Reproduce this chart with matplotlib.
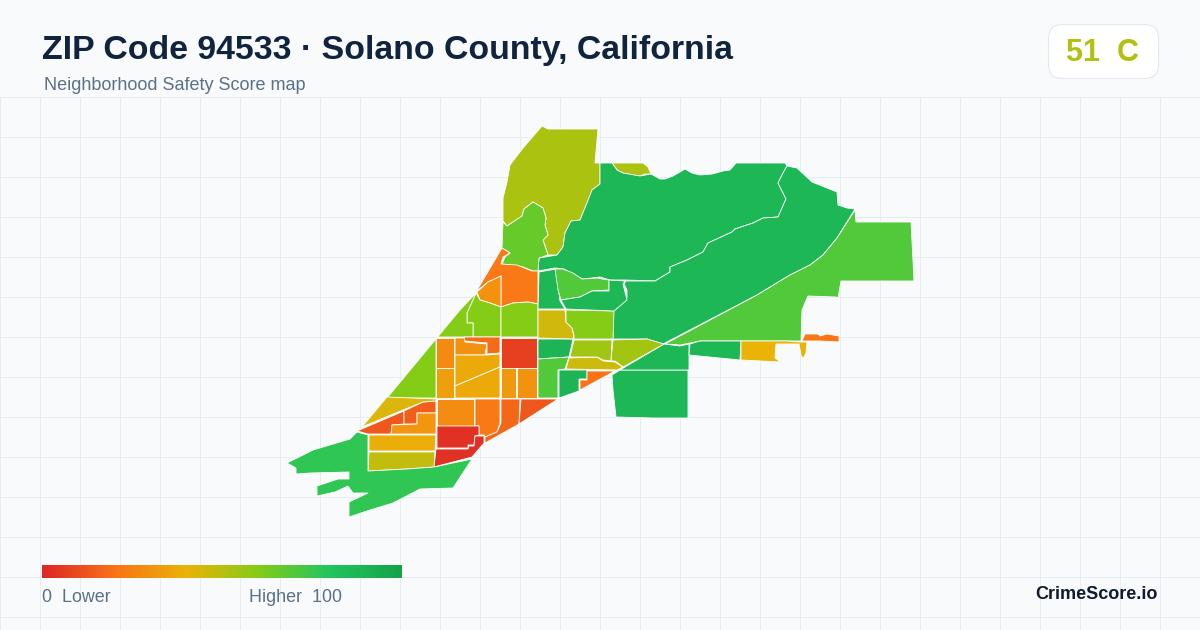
import numpy as np
import matplotlib
matplotlib.use("Agg")
import matplotlib.pyplot as plt
from matplotlib.colors import LinearSegmentedColormap
from matplotlib.patches import FancyBboxPatch, Polygon

plt.rcParams['font.family'] = ['Liberation Sans', 'DejaVu Sans']

title = "ZIP Code 94533 \u00b7 Solano County, California"
subtitle = "Neighborhood Safety Score map"
overall_score = 51
overall_grade = "C"
brand = "CrimeScore.io"

# score scale, same stops as the legend bar
scale_stops = [0.0, 0.2, 0.4, 0.6, 0.8, 1.0]
scale_colors = ["#dc2626", "#f97316", "#eab308", "#84cc16", "#22c55e", "#16a34a"]

# tract outlines, with the score read from each fill
tract_north_olive = [(542,126),(548,129),(598,129),(595,163),(600,163),(600,184),(592,190),(587,203),(580,220),(571,221),(565,233),(563,247),(557,255),(548,255),(543,240),(548,235),(545,225),(546,218),(543,208),(533,202),(524,209),(522,216),(507,226),(503,221),(503,198),(507,182),(510,165),(523,148)]
tract_north_sliver = [(612,163),(643,163),(648,167),(651,174),(645,174),(640,176),(633,175),(623,173),(617,170)]
tract_north_green = [(600,163),(612,163),(617,170),(623,173),(640,176),(651,174),(660,179),(665,179),(673,176),(685,169),(692,173),(700,175),(712,174),(723,171),(730,170),(736,163),(785,163),(787,166),(783,173),(778,183),(786,199),(778,217),(763,218),(753,223),(735,229),(732,232),(708,243),(703,252),(687,260),(670,267),(670,272),(655,281),(625,280),(610,280),(600,277),(583,279),(573,275),(564,269),(555,268),(538,271),(539,258),(557,255),(563,247),(565,233),(571,221),(580,220),(587,203),(592,190),(600,184)]
tract_northeast = [(787,166),(797,168),(812,182),(837,192),(838,205),(847,208),(855,209),(837,238),(823,255),(810,265),(790,275),(757,295),(663,344),(647,339),(613,339),(613,311),(616,309),(627,298),(627,290),(624,284),(626,281),(655,281),(670,272),(670,267),(687,260),(703,252),(708,243),(732,232),(735,229),(753,223),(763,218),(778,217),(786,199),(778,183),(783,173)]
tract_east = [(855,210),(856,222),(911,222),(914,281),(841,281),(838,298),(836,297),(808,296),(802,310),(801,341),(740,341),(700,341),(680,345),(665,344),(757,295),(790,275),(810,265),(823,255),(837,238)]
tract_southeast = [(612,375),(613,390),(616,417),(653,418),(688,418),(688,370),(620,370)]
tract_se_strip = [(664,344),(680,346),(689,344),(689,370),(620,370)]
tract_east_strip = [(690,344),(700,341),(741,341),(740,360),(689,355)]
tract_east_yellow = [(741,341),(787,341),(800,342),(807,342),(806,353),(803,359),(801,355),(799,344),(776,344),(775,358),(781,362),(741,360)]
tract_east_orange = [(805,334),(818,334),(820,336),(827,334),(839,336),(839,342),(820,341),(802,341)]
tract_hill_lime = [(503,222),(507,226),(522,216),(524,209),(533,202),(543,208),(546,218),(545,225),(548,235),(543,240),(548,255),(539,258),(538,271),(533,271),(523,267),(502,264),(505,257),(510,253),(502,248)]
tract_orange_big = [(502,248),(510,253),(503,257),(501,264),(517,265),(532,271),(538,271),(538,304),(528,302),(513,303),(501,307),(501,276),(488,282),(478,290),(476,292)]
tract_orange_small = [(477,292),(488,282),(501,276),(501,307),(490,303),(480,300)]
tract_lime_a = [(476,293),(480,300),(490,303),(501,307),(501,337),(473,337),(473,323),(467,323),(467,313)]
tract_lime_b = [(501,307),(513,303),(528,302),(538,304),(538,337),(501,337)]
tract_lime_long = [(476,293),(467,313),(467,323),(473,323),(473,337),(436,337),(436,398),(387,398),(460,310)]
tract_g1 = [(436,338),(454,338),(454,368),(436,368)]
tract_g2 = [(436,368),(454,368),(454,398),(436,398)]
tract_g3 = [(455,338),(465,338),(465,342),(487,344),(485,355),(455,355)]
tract_g4 = [(464,337),(500,337),(500,353),(487,354),(487,343),(465,341)]
tract_g5 = [(455,355),(487,355),(500,354),(500,367),(455,386)]
tract_g6 = [(455,386),(500,367),(500,398),(455,398)]
tract_g7 = [(501,338),(537,338),(537,368),(501,368)]
tract_g8 = [(501,368),(516,368),(516,398),(501,398)]
tract_g9 = [(517,368),(537,368),(537,398),(517,398)]
tract_c1 = [(538,339),(573,339),(569,357),(538,359)]
tract_c2 = [(538,359),(569,357),(565,369),(558,370),(558,398),(538,398)]
tract_c3 = [(559,370),(587,370),(587,379),(579,379),(579,391),(559,398)]
tract_c4 = [(587,371),(615,371),(580,390),(580,380),(587,380)]
tract_c5 = [(569,358),(597,357),(603,361),(615,362),(623,367),(617,370),(566,369)]
tract_c6 = [(538,310),(565,310),(566,322),(572,328),(574,337),(573,339),(538,338)]
tract_c7 = [(566,310),(614,311),(613,339),(574,339),(574,335),(572,328),(566,322)]
tract_c8 = [(574,340),(612,340),(611,361),(603,360),(597,357),(570,357)]
tract_c9 = [(613,340),(647,339),(664,344),(623,367),(615,361),(611,361)]
tract_n1 = [(539,272),(556,269),(560,301),(565,309),(538,309)]
tract_n2 = [(555,269),(563,269),(573,273),(582,279),(598,278),(602,279),(609,280),(609,290),(592,291),(580,297),(561,300),(558,290)]
tract_n3 = [(561,300),(580,297),(592,291),(609,291),(609,280),(625,281),(623,284),(627,300),(614,311),(566,309)]
tract_s1 = [(437,399),(474,399),(474,426),(437,426)]
tract_s2 = [(475,399),(500,399),(500,423),(497,432),(485,437),(484,435),(479,435),(479,426),(475,426)]
tract_s3 = [(501,399),(520,399),(519,424),(485,443),(485,437),(497,432),(501,423)]
tract_s4 = [(521,399),(558,399),(519,424)]
tract_s5 = [(437,426),(479,426),(479,435),(475,436),(474,445),(468,445),(468,448),(437,448)]
tract_s6 = [(475,436),(484,436),(484,443),(472,457),(434,467),(436,449),(468,449),(469,446),(474,446)]
tract_w1 = [(357,431),(404,411),(404,424),(392,425),(391,434),(368,434)]
tract_w2 = [(404,411),(423,402),(436,401),(436,413),(417,413),(417,424),(404,424)]
tract_w3 = [(392,425),(417,424),(417,413),(436,413),(436,434),(391,434)]
tract_w4 = [(369,435),(436,435),(435,451),(369,451)]
tract_w5 = [(369,452),(435,452),(434,467),(407,469),(368,471)]
tract_w6 = [(387,397),(436,399),(436,401),(423,402),(403,410),(362,427)]
tract_southwest = [(357,432),(368,435),(368,471),(407,469),(434,467),(472,459),(453,488),(420,489),(393,503),(370,510),(349,517),(349,502),(368,493),(353,493),(348,486),(335,492),(317,496),(317,486),(338,479),(349,479),(349,472),(310,473),(296,474),(296,468),(287,463),(313,450),(350,439)]

tracts = [
    (tract_north_olive, 52), (tract_north_sliver, 52), (tract_north_green, 88),
    (tract_northeast, 88), (tract_east, 70), (tract_southeast, 88),
    (tract_se_strip, 88), (tract_east_strip, 88), (tract_east_yellow, 40),
    (tract_east_orange, 21), (tract_hill_lime, 66), (tract_orange_big, 22),
    (tract_orange_small, 30), (tract_lime_a, 60), (tract_lime_b, 60),
    (tract_lime_long, 60), (tract_g1, 27), (tract_g2, 34), (tract_g3, 29),
    (tract_g4, 18), (tract_g5, 37), (tract_g6, 37), (tract_g7, 7),
    (tract_g8, 32), (tract_g9, 30), (tract_c1, 90), (tract_c2, 70),
    (tract_c3, 90), (tract_c4, 20), (tract_c5, 46), (tract_c6, 45),
    (tract_c7, 60), (tract_c8, 55), (tract_c9, 54), (tract_n1, 88),
    (tract_n2, 70), (tract_n3, 88), (tract_s1, 28), (tract_s2, 22),
    (tract_s3, 17), (tract_s4, 13), (tract_s5, 3), (tract_s6, 3),
    (tract_w1, 13), (tract_w2, 15), (tract_w3, 31), (tract_w4, 38),
    (tract_w5, 48), (tract_w6, 43), (tract_southwest, 77),
]

cmap = LinearSegmentedColormap.from_list("safety", list(zip(scale_stops, scale_colors)))

fig = plt.figure(figsize=(12, 6.3), dpi=100, facecolor="#f8fafc")
ax = fig.add_axes([0, 0, 1, 1])
ax.set_xlim(0, 1200)
ax.set_ylim(630, 0)
ax.axis("off")

# background grid starts under the header
for x in range(0, 1201, 40):
    ax.plot([x, x], [97, 630], color="#e5ecf2", lw=0.72, zorder=1)
for y in range(97, 630, 40):
    ax.plot([0, 1200], [y, y], color="#e5ecf2", lw=0.72, zorder=1)

for outline, score in tracts:
    ax.add_patch(Polygon(outline, closed=True, facecolor=cmap(score / 100),
                         edgecolor="white", lw=0.6, joinstyle="round", zorder=2))

ax.text(42, 50.5, title, fontsize=24.4, fontweight="bold", color="#10243e", va="center", ha="left")
ax.text(44, 86, subtitle, fontsize=12.95, color="#5b7089", va="center", ha="left")

# score badge
ax.add_patch(FancyBboxPatch((1048.5, 24.5), 110, 54, boxstyle="round,pad=0,rounding_size=14",
                            mutation_scale=1, facecolor="white", edgecolor="#e2e8f0",
                            lw=0.8, zorder=3))
ax.text(1103, 53, f"{overall_score}  {overall_grade}", fontsize=22, fontweight="bold",
        color=cmap(overall_score / 100), va="center", ha="center", zorder=4)

# legend bar
bar = np.linspace(0, 1, 360).reshape(1, -1)
ax.imshow(bar, cmap=cmap, extent=(42, 402, 578, 565), aspect="auto", zorder=3)
ax.set_xlim(0, 1200)
ax.set_ylim(630, 0)
ax.text(42, 597.5, "0  Lower", fontsize=12.9, color="#5b7089", va="center", ha="left")
ax.text(342, 597.5, "Higher  100", fontsize=12.9, color="#5b7089", va="center", ha="right")
ax.text(1158, 594.5, brand, fontsize=13, fontweight="bold", color="#0f1a2e", va="center", ha="right")

fig.savefig("out.png", dpi=100, facecolor=fig.get_facecolor())
plt.close(fig)
